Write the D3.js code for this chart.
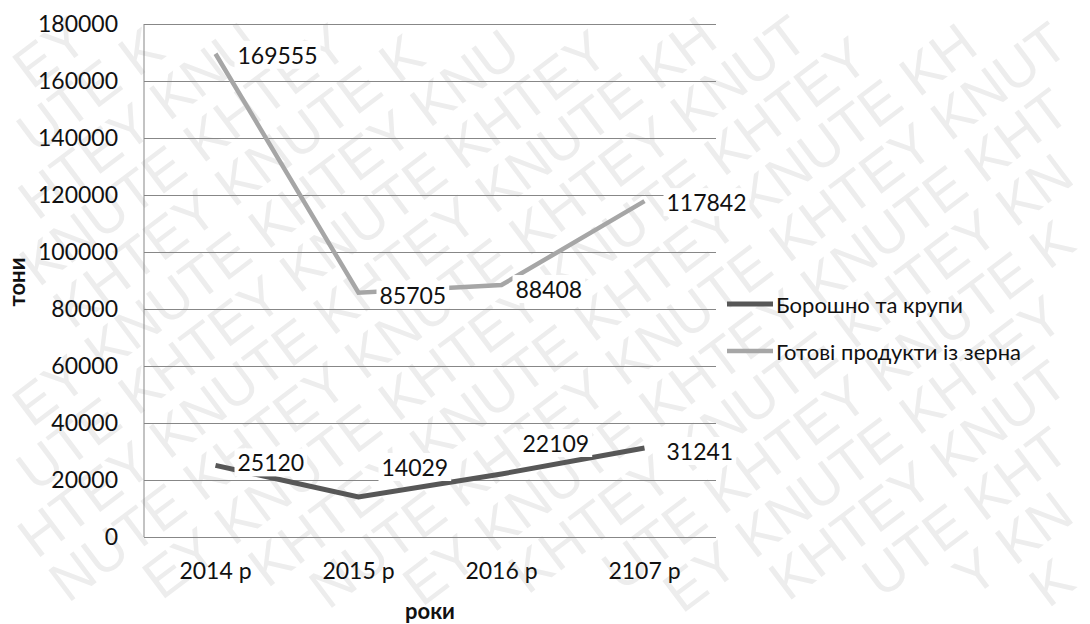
<!DOCTYPE html>
<html lang="uk">
<head>
<meta charset="utf-8">
<title>Виробництво, тони</title>
<script src="https://cdn.jsdelivr.net/npm/d3@7"></script>
<style>
  html, body { margin: 0; padding: 0; background: #fff; }
  svg { display: block; }
  text { font-family: Lato, "Open Sans", sans-serif; }
</style>
</head>
<body>
<svg id="chart" width="1090" height="624"></svg>
<script>
// Categories (years) and series values, tonnes
const years = ["2014 р", "2015 р", "2016 р", "2107 р"];
const flourGroats = [25120, 14029, 22109, 31241];
const grainProducts = [169555, 85705, 88408, 117842];
const seriesNames = ["Борошно та крупи", "Готові продукти із зерна"];
const yTicks = [0, 20000, 40000, 60000, 80000, 100000, 120000, 140000, 160000, 180000];

// Hand-placed data label nudges (pixels): [dx, dy] per point
const labelNudgeFlour = [[22, -3], [23, -30], [21, -31], [22, 3]];
const labelNudgeGrain = [[22, 1], [21, 2], [14, 4], [22, 1]];

const svg = d3.select("#chart");
const W = 1090, H = 624;
const plot = { left: 144, right: 716, top: 24, bottom: 537 };

// Faint diagonal watermark, laid out letter by letter; glyphs that would poke past the canvas edge are dropped
(function drawWatermark() {
  const phrase = "KHTEY KNUTE ";
  const fontSize = 56, rowGap = 54, deg = -37;
  const ang = deg * Math.PI / 180, ca = Math.cos(ang), sa = Math.sin(ang);
  const cx = W / 2, cy = H / 2;
  const wm = svg.append("g").attr("fill", "#ededed");
  const font = "'Liberation Sans', Arial, sans-serif";

  const probe = wm.append("text").style("font-family", font).attr("font-size", fontSize);
  const adv = {};
  for (const ch of new Set(phrase)) {
    probe.text(ch === " " ? "\u00a0" : ch);
    adv[ch] = probe.node().getComputedTextLength();
  }
  probe.remove();
  const phraseLen = [...phrase].reduce((s, ch) => s + adv[ch], 0);
  const toScreen = (u, v) => [cx + u * ca - v * sa, cy + u * sa + v * ca];
  const svgRect = svg.node().getBoundingClientRect();

  for (let r = -10; r <= 10; r++) {
    const v = r * rowGap;
    let u = -1000 - ((r * 0.5 * phraseLen) % phraseLen + phraseLen) % phraseLen;
    let k = 0;
    while (u < 1000) {
      const ch = phrase[k % phrase.length];
      const w = adv[ch];
      if (ch !== " ") {
        const [X, Y] = toScreen(u, v);
        if (X > -80 && X < W + 80 && Y > -80 && Y < H + 80) {
          const t = wm.append("text")
            .attr("x", X).attr("y", Y)
            .attr("transform", `rotate(${deg},${X},${Y})`)
            .attr("font-size", fontSize)
            .style("font-family", font)
            .text(ch);
          const b = t.node().getBoundingClientRect();
          const l = b.left - svgRect.left, tp = b.top - svgRect.top;
          if (l < 0 || tp < 0 || l + b.width > W || tp + b.height > H) t.remove();
        }
      }
      u += w;
      k++;
    }
  }
})();

const x = d3.scaleBand().domain(years).range([plot.left, plot.right]).padding(0);
const cxOf = d => x(d) + x.bandwidth() / 2;
const y = d3.scaleLinear().domain([0, 180000]).range([plot.bottom, plot.top]);

// Horizontal gridlines
const grid = svg.append("g")
  .attr("transform", `translate(${plot.left},0)`)
  .call(d3.axisLeft(y).tickValues(yTicks).tickSize(-(plot.right - plot.left)).tickFormat(""));
grid.select(".domain").remove();
grid.selectAll("line").attr("stroke", "#878787").attr("stroke-width", 1);

// Left axis line
svg.append("line")
  .attr("x1", plot.left).attr("x2", plot.left)
  .attr("y1", plot.top).attr("y2", plot.bottom)
  .attr("stroke", "#878787").attr("stroke-width", 1);

// Y tick labels
const yAxis = svg.append("g")
  .attr("transform", `translate(${plot.left},0)`)
  .call(d3.axisLeft(y).tickValues(yTicks).tickSize(0).tickPadding(26).tickFormat(d3.format("d")));
yAxis.select(".domain").remove();
yAxis.selectAll("text")
  .attr("font-size", 23).attr("fill", "#111")
  .style("font-family", "Lato, sans-serif");

// X tick labels
const xAxis = svg.append("g")
  .attr("transform", `translate(0,${plot.bottom})`)
  .call(d3.axisBottom(x).tickSize(0).tickPadding(26));
xAxis.select(".domain").remove();
xAxis.selectAll("text")
  .attr("font-size", 23).attr("fill", "#111")
  .style("font-family", "Lato, sans-serif");

// Axis titles
svg.append("text")
  .attr("x", 430).attr("y", 619)
  .attr("text-anchor", "middle")
  .attr("font-size", 22).attr("font-weight", "bold").attr("fill", "#111")
  .text("роки");
svg.append("text")
  .attr("transform", "translate(25,282) rotate(-90)")
  .attr("text-anchor", "middle")
  .attr("font-size", 22).attr("font-weight", "bold").attr("fill", "#111")
  .text("тони");

const series = [
  { name: seriesNames[0], values: flourGroats, color: "#575757", width: 5, nudge: labelNudgeFlour },
  { name: seriesNames[1], values: grainProducts, color: "#a6a6a6", width: 4.5, nudge: labelNudgeGrain }
];

const line = d3.line().x((d, i) => cxOf(years[i])).y(d => y(d));

svg.append("g").selectAll("path")
  .data(series)
  .join("path")
  .attr("d", s => line(s.values))
  .attr("fill", "none")
  .attr("stroke", s => s.color)
  .attr("stroke-width", s => s.width)
  .attr("stroke-linejoin", "miter");

// Data labels on a white box, right of each point
const labels = svg.append("g");
series.forEach(s => {
  s.values.forEach((v, i) => {
    const g = labels.append("g")
      .attr("transform", `translate(${cxOf(years[i]) + s.nudge[i][0]},${y(v) + s.nudge[i][1]})`);
    const t = g.append("text")
      .attr("dominant-baseline", "central")
      .attr("font-size", 23).attr("fill", "#111")
      .text(v);
    const bb = t.node().getBBox();
    g.insert("rect", "text")
      .attr("x", bb.x - 3).attr("y", bb.y)
      .attr("width", bb.width + 6).attr("height", bb.height)
      .attr("fill", "#fff");
  });
});

// Legend
const legend = svg.append("g");
const legendY = [304, 351];
series.forEach((s, i) => {
  legend.append("line")
    .attr("x1", 727).attr("x2", 773)
    .attr("y1", legendY[i]).attr("y2", legendY[i])
    .attr("stroke", s.color).attr("stroke-width", s.width);
  legend.append("text")
    .attr("x", 776).attr("y", legendY[i])
    .attr("dominant-baseline", "central")
    .attr("font-size", 22).attr("fill", "#111")
    .text(s.name);
});
</script>
</body>
</html>
